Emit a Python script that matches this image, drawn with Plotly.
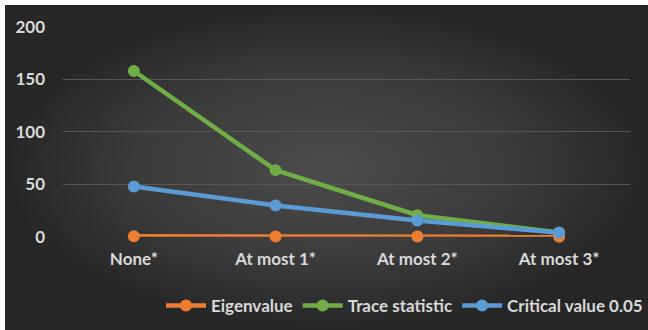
import plotly.graph_objects as go

# Johansen cointegration test results
hypotheses = ["None*", "At most 1*", "At most 2*", "At most 3*"]
eigenvalue = [0.35, 0.21, 0.09, 0.02]
trace_stat = [157.8, 63.4, 20.5, 4.0]
critical_005 = [47.86, 29.80, 15.49, 3.84]
y_ticks = [0, 50, 100, 150, 200]

W, H = 648, 330
LABEL_FONT = dict(family="Lato", size=17, color="#d9d9d9", weight="bold")

fig = go.Figure()

# Dark panel with a soft radial gradient behind the chart
fig.add_trace(go.Scatter(
    x=[0, 1, 1, 0, 0], y=[0, 0, 1, 1, 0],
    xaxis="x", yaxis="y", mode="lines", fill="toself",
    line=dict(width=0, color="rgba(0,0,0,0)"),
    fillgradient=dict(type="radial",
                      colorscale=[[0, "#4b4b4b"], [0.6, "#3a3a3a"], [1, "#262626"]]),
    hoverinfo="skip", showlegend=False,
))

series = [
    ("Eigenvalue", eigenvalue, "#ED7D31"),
    ("Trace statistic", trace_stat, "#70AD47"),
    ("Critical value 0.05", critical_005, "#5B9BD5"),
]
for name, vals, color in series:
    fig.add_trace(go.Scatter(
        x=hypotheses, y=vals, name=name, xaxis="x2", yaxis="y2",
        mode="lines+markers", cliponaxis=False,
        line=dict(color=color, width=4.5),
        marker=dict(color=color, size=12),
    ))

fig.update_layout(
    width=W, height=H,
    margin=dict(l=0, r=0, t=0, b=0, autoexpand=False),
    paper_bgcolor="white",
    plot_bgcolor="rgba(0,0,0,0)",
    xaxis=dict(domain=[5 / W, 1], range=[0, 1], visible=False, fixedrange=True),
    yaxis=dict(domain=[0, 1 - 5 / H], range=[0, 1], visible=False, fixedrange=True),
    xaxis2=dict(
        domain=[63 / W, 630 / W], anchor="y2", type="category",
        range=[-0.5, 3.5], automargin=False,
        showgrid=False, zeroline=False, showline=False, ticks="",
        tickfont=LABEL_FONT, ticklabelstandoff=10,
    ),
    yaxis2=dict(
        domain=[1 - 236.7 / H, 1 - 26.7 / H], anchor="x2", range=[0, 200],
        tickvals=y_ticks, showgrid=True, gridcolor="#565656", gridwidth=1,
        zeroline=False, showline=False, ticks="", automargin=False,
        tickfont=LABEL_FONT, ticklabelstandoff=17,
    ),
    showlegend=True,
    legend=dict(
        orientation="h", x=1, xanchor="right", y=1 - 306 / H, yanchor="middle",
        bgcolor="rgba(0,0,0,0)", font=LABEL_FONT, itemwidth=40,
        tracegroupgap=0,
    ),
)

fig.write_html("out.html")
